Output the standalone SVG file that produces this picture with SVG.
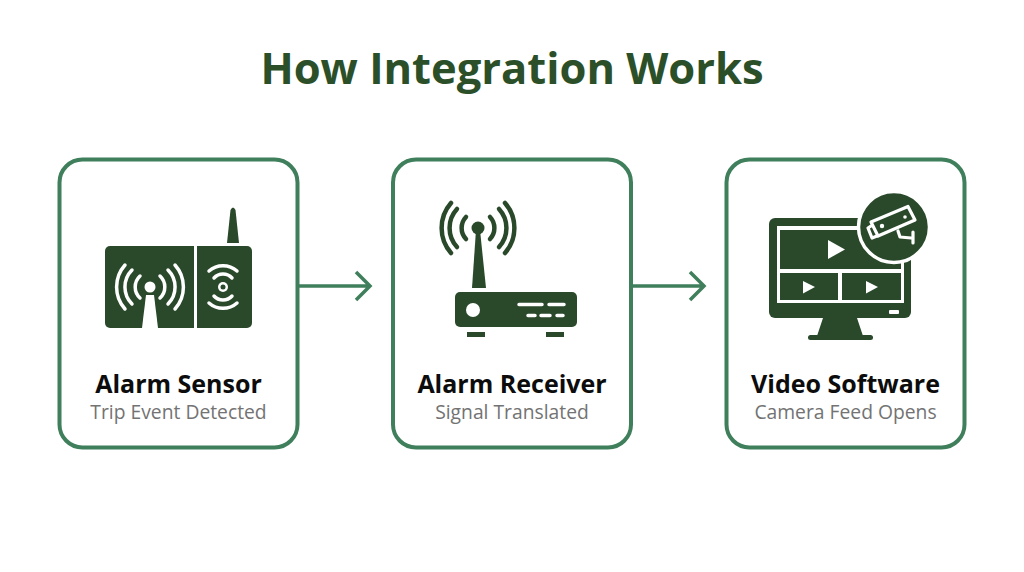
<svg xmlns="http://www.w3.org/2000/svg" width="1024" height="572" viewBox="0 0 1024 572">
<style>
.t{font-family:"Open Sans","Noto Sans",sans-serif;text-anchor:middle}
.title{font-size:43.500px;font-weight:700;fill:#2b5029}
.h{font-size:25px;font-weight:700;fill:#0c0c0c}
.s{font-size:19.300px;fill:#737373}
.card{fill:#fff;stroke:#3f7f5c;stroke-width:4}
.d{fill:#29492a}
.w{fill:#fff}
.wl{fill:none;stroke:#fff;stroke-linecap:round}
.dl{fill:none;stroke:#29492a;stroke-linecap:round}
.c{fill:none;stroke:#3f7f5c;stroke-width:3.500}
</style>
<rect width="1024" height="572" fill="#fff"/>
<text class="t title" x="512" y="84">How Integration Works</text>
<g id="connectors">
<path class="c" d="M298 286H369M356 272L370 286L356 300"/>
<path class="c" d="M631 286H703M690 272L704 286L690 300"/>
</g>
<g id="node-alarm-sensor">
<rect class="card" x="59.500" y="159.500" width="238" height="288" rx="23"/>
<path class="d" d="M227 243L230.500 210Q233 205 235.500 210L239 243Z"/>
<rect class="d" x="105" y="246" width="147" height="82" rx="5"/>
<rect class="w" x="194" y="246" width="3" height="82"/>
<circle class="w" cx="150" cy="287" r="5.500"/>
<path class="w" d="M146 295H154L158 328H142Z"/>
<g class="wl" stroke-width="3.500">
<path d="M140 276A15 15 0 0 0 140 298M160 276A15 15 0 0 1 160 298"/>
<path d="M132 270A24 24 0 0 0 132 304M168 270A24 24 0 0 1 168 304"/>
<path d="M125 265A33 33 0 0 0 125 309M175 265A33 33 0 0 1 175 309"/>
<path d="M214 278A12 12 0 0 1 232 278M214 296A12 12 0 0 0 232 296"/>
<path d="M209 271A21 21 0 0 1 237 271M209 303A21 21 0 0 0 237 303"/>
</g>
<circle class="w" cx="223" cy="287" r="5"/>
<circle class="d" cx="223" cy="287" r="2.500"/>
<text class="t h" x="178.500" y="393">Alarm Sensor</text>
<text class="t s" x="178.500" y="419">Trip Event Detected</text>
</g>
<g id="node-alarm-receiver">
<rect class="card" x="393" y="159.500" width="238" height="288" rx="23"/>
<g class="dl" stroke-width="4.500">
<path d="M466 217A16 16 0 0 0 466 239M490 217A16 16 0 0 1 490 239"/>
<path d="M457 209A28 28 0 0 0 457 247M499 209A28 28 0 0 1 499 247"/>
<path d="M451 203A38 38 0 0 0 451 253M505 203A38 38 0 0 1 505 253"/>
</g>
<circle class="d" cx="478" cy="228" r="6.500"/>
<path class="d" d="M476 230H480L486 288H472Z"/>
<rect class="d" x="455" y="292" width="122" height="35" rx="5"/>
<rect class="d" x="467" y="332" width="18" height="5"/>
<rect class="d" x="546" y="332" width="18" height="5"/>
<circle class="w" cx="473" cy="310" r="7"/>
<g class="wl" stroke-width="3.500">
<path d="M519 304.500H542M549 304.500H564M528 315.500H535M541 315.500H550M557 315.500H563"/>
</g>
<text class="t h" x="512" y="393">Alarm Receiver</text>
<text class="t s" x="512" y="419">Signal Translated</text>
</g>
<g id="node-video-software">
<rect class="card" x="726.500" y="159.500" width="238" height="288" rx="23"/>
<rect class="d" x="769" y="218" width="142" height="100" rx="6"/>
<rect class="w" x="777" y="226" width="127" height="77"/>
<rect class="d" x="780" y="230" width="121" height="39"/>
<rect class="d" x="780" y="273" width="58" height="27"/>
<rect class="d" x="842" y="273" width="59" height="27"/>
<path class="w" d="M828 240L845 249.500L828 259Z"/>
<path class="w" d="M803 281L815 287L803 293.500Z"/>
<path class="w" d="M866 281L878 287L866 293.500Z"/>
<rect class="w" x="889" y="310" width="10" height="4" rx="1"/>
<path class="d" d="M823 318H857L863 336H817Z"/>
<rect class="d" x="808" y="335" width="65" height="5" rx="2.500"/>
<circle class="d" cx="894" cy="227" r="35.500" stroke="#fff" stroke-width="3.500"/>
<g class="wl" stroke-width="3.200" stroke-linejoin="round">
<path d="M871 222L908 206.500L915 220L878 236Z"/>
<path d="M871 226L868 228L872 238L877 236"/>
<path d="M898 231L900 237L911 238M913 232V243"/>
</g>
<circle class="w" cx="882" cy="226" r="2.200"/>
<circle class="w" cx="905" cy="217" r="1.800"/>
<text class="t h" x="845.500" y="393">Video Software</text>
<text class="t s" x="845.500" y="419">Camera Feed Opens</text>
</g>
</svg>
